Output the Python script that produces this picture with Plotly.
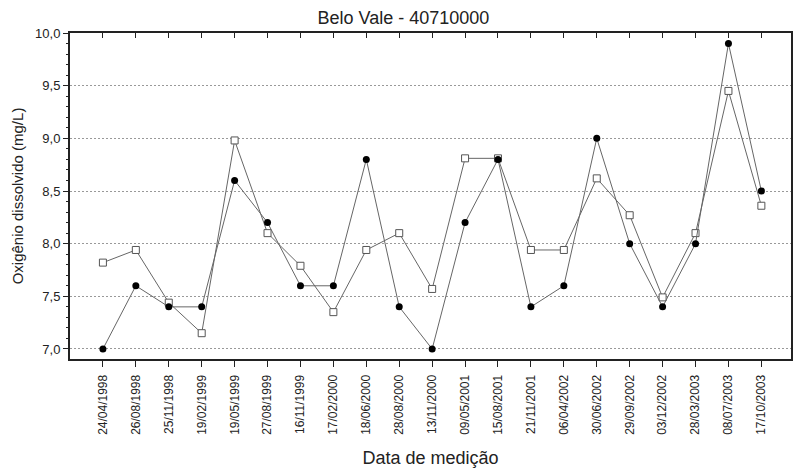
import plotly.graph_objects as go

dates = ["24/04/1998", "26/08/1998", "25/11/1998", "19/02/1999", "19/05/1999",
         "27/08/1999", "16/11/1999", "17/02/2000", "18/06/2000", "28/08/2000",
         "13/11/2000", "09/05/2001", "15/08/2001", "21/11/2001", "06/04/2002",
         "30/06/2002", "29/09/2002", "03/12/2002", "28/03/2003", "08/07/2003",
         "17/10/2003"]

od_circles = [7.0, 7.6, 7.4, 7.4, 8.6, 8.2, 7.6, 7.6, 8.8, 7.4,
              7.0, 8.2, 8.8, 7.4, 7.6, 9.0, 8.0, 7.4, 8.0, 9.9, 8.5]

od_squares = [7.82, 7.94, 7.44, 7.15, 8.98, 8.10, 7.79, 7.35, 7.94, 8.10,
              7.57, 8.81, 8.81, 7.94, 7.94, 8.62, 8.27, 7.49, 8.10, 9.45, 8.36]

y_ticks = [7.0, 7.5, 8.0, 8.5, 9.0, 9.5, 10.0]

line_col = "#666666"
font_family = "Liberation Sans, Arial, sans-serif"

fig = go.Figure()

fig.add_trace(go.Scatter(
    x=dates, y=od_squares, mode="lines+markers",
    line=dict(color=line_col, width=1),
    marker=dict(symbol="square", size=7, color="white",
                line=dict(color="#555555", width=1)),
    showlegend=False, cliponaxis=False))

fig.add_trace(go.Scatter(
    x=dates, y=od_circles, mode="lines+markers",
    line=dict(color=line_col, width=1),
    marker=dict(symbol="circle", size=7, color="black"),
    showlegend=False, cliponaxis=False))

# invisible trace to anchor the top axis
fig.add_trace(go.Scatter(
    x=dates, y=od_circles, xaxis="x2", mode="markers",
    marker=dict(opacity=0), showlegend=False, hoverinfo="skip"))

xrange = [-1, 20.9]

fig.update_layout(
    width=794, height=470,
    margin=dict(l=70, r=1, t=33, b=111),
    paper_bgcolor="white", plot_bgcolor="white",
    separators=",.",
    font=dict(family=font_family, color="#222222"),
    title=dict(text="Belo Vale - 40710000", x=0.508, xanchor="center",
               y=0.975, yanchor="top",
               font=dict(size=18, color="#222222")),
    xaxis=dict(
        type="category", categoryorder="array", categoryarray=dates,
        range=xrange, showgrid=False, zeroline=False,
        showline=True, linecolor="#222222", linewidth=2,
        ticks="outside", ticklen=6, tickwidth=1, tickcolor="#222222",
        tickangle=-90, tickfont=dict(size=12, color="#222222"),
        ticklabelstandoff=3,
        title=dict(text="Data de medição", font=dict(size=18, color="#222222"),
                   standoff=18),
    ),
    xaxis2=dict(
        type="category", categoryorder="array", categoryarray=dates,
        range=xrange, overlaying="x", side="top", anchor="y",
        showgrid=False, zeroline=False,
        showline=True, linecolor="#222222", linewidth=2,
        ticks="inside", ticklen=5, tickwidth=1, tickcolor="#222222",
        showticklabels=False,
    ),
    yaxis=dict(
        range=[6.905, 10.0], tickvals=y_ticks, tickformat=".1f",
        showgrid=True, gridcolor="#999999", griddash="2px,2px", gridwidth=1,
        zeroline=False,
        showline=True, linecolor="#222222", linewidth=2, mirror=True,
        ticks="outside", ticklen=5, tickwidth=1, tickcolor="#222222",
        tickfont=dict(size=13, color="#222222"),
        minor=dict(dtick=0.1, tick0=7.0, ticks="outside", ticklen=2,
                   tickcolor="#222222", showgrid=False),
        title=dict(text="Oxigênio dissolvido (mg/L)",
                   font=dict(size=15, color="#222222"), standoff=8),
    ),
)

fig.write_html("out.html")
